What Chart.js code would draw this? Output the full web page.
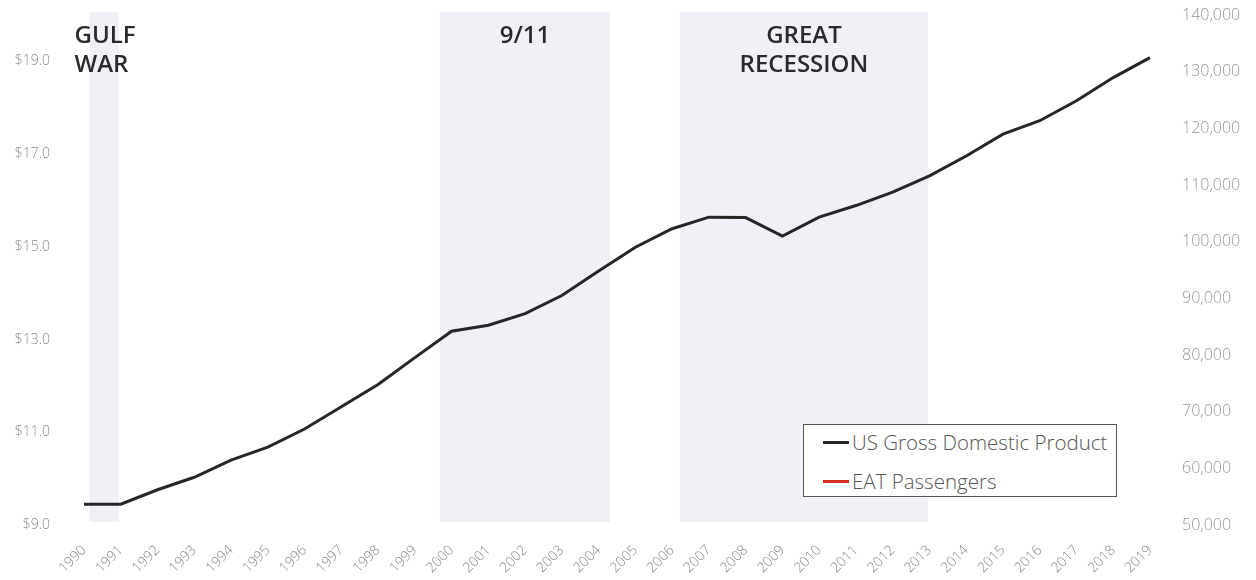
<!DOCTYPE html>
<html>
<head>
<meta charset="utf-8">
<script src="https://cdn.jsdelivr.net/npm/chart.js@4.4.1/dist/chart.umd.min.js"></script>
<style>
  html, body { margin: 0; padding: 0; background: #fff; }
  #wrap { position: relative; width: 1256px; height: 580px; }
  #legend {
    position: absolute; left: 803px; top: 424px;
    width: 314px; height: 73px; padding-top: 5px; box-sizing: border-box;
    border: 1px solid #555; background: #fff;
    font-family: "Open Sans", sans-serif; font-weight: 300; font-size: 20.5px; color: #555;
  }
  #legend .item { display: flex; align-items: center; height: 24px; margin-bottom: 15px; padding-left: 19px; }
  #legend .swatch { width: 26px; height: 3px; margin-right: 3px; }
</style>
</head>
<body>
<div id="wrap">
  <canvas id="gdpChart" width="1256" height="580"></canvas>
  <div id="legend"></div>
</div>
<script>
// Years on the x axis
const years = [
  '1990', '1991', '1992', '1993', '1994', '1995', '1996', '1997', '1998', '1999',
  '2000', '2001', '2002', '2003', '2004', '2005', '2006', '2007', '2008', '2009',
  '2010', '2011', '2012', '2013', '2014', '2015', '2016', '2017', '2018', '2019'
];

// US GDP, trillions of dollars (left axis)
const gdp = [
  9.45, 9.45, 9.76, 10.03, 10.40, 10.68, 11.07, 11.55, 12.03, 12.61,
  13.18, 13.31, 13.56, 13.95, 14.48, 14.99, 15.39, 15.64, 15.63, 15.23,
  15.64, 15.89, 16.18, 16.53, 16.96, 17.43, 17.72, 18.15, 18.65, 19.08
];

// EAT passengers (right axis) - no values plotted yet
const eatPassengers = [];

// Tick values
const gdpTicks = [9, 11, 13, 15, 17, 19];
const passengerTicks = [50000, 60000, 70000, 80000, 90000, 100000, 110000, 120000, 130000, 140000];

// Shaded events, in year-index units along the x axis
const eventNames = [['GULF', 'WAR'], ['9/11'], ['GREAT', 'RECESSION']];
const eventStart = [0.15, 9.68, 16.21];
const eventEnd = [0.95, 14.31, 22.96];

// Draws the shaded event bands and their titles
const eventBands = {
  id: 'eventBands',
  beforeDatasetsDraw(chart) {
    const { ctx, chartArea, scales: { x } } = chart;
    ctx.save();
    ctx.fillStyle = '#eff1f7';
    eventNames.forEach((name, i) => {
      const x0 = x.getPixelForValue(eventStart[i]);
      const x1 = x.getPixelForValue(eventEnd[i]);
      ctx.fillRect(x0, chartArea.top - 3, x1 - x0, chartArea.bottom - chartArea.top);
    });

    ctx.fillStyle = '#2a2a2a';
    ctx.font = '600 24px "Open Sans", sans-serif';
    ctx.textBaseline = 'middle';
    eventNames.forEach((name, i) => {
      const x0 = x.getPixelForValue(eventStart[i]);
      const x1 = x.getPixelForValue(eventEnd[i]);
      let tx;
      if (i === 0) {
        ctx.textAlign = 'left';
        tx = x0 - 15;
      } else {
        ctx.textAlign = 'center';
        tx = (x0 + x1) / 2;
      }
      name.forEach((line, k) => {
        ctx.fillText(line, tx, chartArea.top + 21 + k * 29);
      });
    });
    ctx.restore();
  }
};

// y axes: no extra room for the first/last tick label
const fitY = width => s => {
  s.width = width;
  s.paddingTop = 0;
  s.paddingBottom = 0;
};

const ctxGdp = document.getElementById('gdpChart').getContext('2d');
const gdpChart = new Chart(ctxGdp, {
  type: 'line',
  data: {
    labels: years,
    datasets: [{
      label: 'US Gross Domestic Product',
      data: gdp,
      borderColor: '#262626',
      backgroundColor: '#262626',
      borderWidth: 3,
      pointRadius: 0,
      tension: 0,
      yAxisID: 'y'
    }, {
      label: 'EAT Passengers',
      data: eatPassengers,
      borderColor: '#d6301f',
      backgroundColor: '#d6301f',
      borderWidth: 3,
      pointRadius: 0,
      yAxisID: 'y1'
    }]
  },
  options: {
    responsive: false,
    animation: false,
    layout: { padding: { top: 15, left: 0, right: 0, bottom: 0 } },
    plugins: {
      legend: { display: false },
      tooltip: { enabled: false }
    },
    scales: {
      x: {
        grid: { display: false, drawTicks: false },
        border: { display: false },
        ticks: {
          autoSkip: false, maxRotation: 45, minRotation: 45,
          padding: 17, color: '#888',
          font: { family: '"Open Sans", sans-serif', size: 14, weight: '300' }
        },
        afterFit: s => { s.height = 55; }
      },
      y: {
        position: 'left',
        min: 9, max: 20,
        grid: { display: false, drawTicks: false },
        border: { display: false },
        afterBuildTicks: s => { s.ticks = gdpTicks.map(v => ({ value: v })); },
        ticks: {
          padding: 34, color: '#8c8c8c',
          font: { family: '"Open Sans", sans-serif', size: 14, weight: '300' },
          callback: v => '$' + v.toFixed(1)
        },
        afterFit: fitY(84)
      },
      y1: {
        position: 'right',
        min: 50000, max: 140000,
        grid: { display: false, drawTicks: false },
        border: { display: false },
        afterBuildTicks: s => { s.ticks = passengerTicks.map(v => ({ value: v })); },
        ticks: {
          padding: 32, color: '#999',
          font: { family: '"Open Sans", sans-serif', size: 16, weight: '300' },
          callback: v => v.toLocaleString('en-US')
        },
        afterFit: fitY(106)
      }
    }
  },
  plugins: [eventBands]
});

// Legend box
const legendEl = document.getElementById('legend');
gdpChart.data.datasets.forEach(ds => {
  const item = document.createElement('div');
  item.className = 'item';
  const sw = document.createElement('span');
  sw.className = 'swatch';
  sw.style.background = ds.borderColor;
  const txt = document.createElement('span');
  txt.textContent = ds.label;
  item.appendChild(sw);
  item.appendChild(txt);
  legendEl.appendChild(item);
});
</script>
</body>
</html>
